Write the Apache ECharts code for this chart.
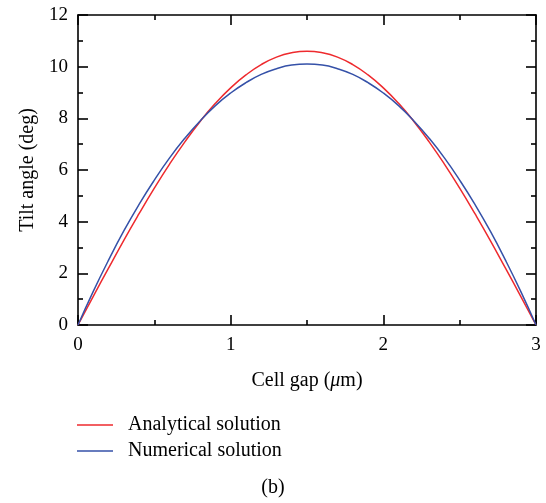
<!DOCTYPE html>
<html>
<head>
    <meta charset="utf-8">
    <title>ECharts</title>
    <script src="https://cdn.jsdelivr.net/npm/echarts@6/dist/echarts.min.js"></script>
</head>
<body style="margin:0;background:#fff;">
<div id="main" style="width: 546px;height:503px;"></div>
<script type="text/javascript">
    // cell gap (um)
    var gap = [0, 0.1, 0.2, 0.3, 0.4, 0.5, 0.6, 0.7, 0.8, 0.9, 1.0, 1.1, 1.2, 1.3, 1.4, 1.5,
        1.6, 1.7, 1.8, 1.9, 2.0, 2.1, 2.2, 2.3, 2.4, 2.5, 2.6, 2.7, 2.8, 2.9, 3.0];
    // tilt angle (deg)
    var analytical = [0, 1.11, 2.20, 3.28, 4.31, 5.30, 6.23, 7.09, 7.88, 8.58, 9.18, 9.68, 10.08, 10.37, 10.54, 10.60,
        10.54, 10.37, 10.08, 9.68, 9.18, 8.58, 7.88, 7.09, 6.23, 5.30, 4.31, 3.28, 2.20, 1.11, 0];
    var numerical = [0, 1.30, 2.51, 3.64, 4.67, 5.61, 6.47, 7.23, 7.90, 8.49, 8.98, 9.38, 9.70, 9.92, 10.06, 10.10,
        10.06, 9.92, 9.70, 9.38, 8.98, 8.49, 7.90, 7.23, 6.47, 5.61, 4.67, 3.64, 2.51, 1.30, 0];
    var names = ['Analytical solution', 'Numerical solution'];

    function pairs(ys) {
        return ys.map(function (y, i) { return [gap[i], y]; });
    }

    var font = 'Liberation Serif';
    var tickStyle = { show: true, inside: true, length: 10, lineStyle: { color: '#000', width: 1.6 } };
    var minorStyle = { show: true, splitNumber: 2, length: 5, lineStyle: { color: '#000', width: 1.6 } };
    var lineStyle = { show: true, onZero: false, lineStyle: { color: '#000', width: 1.6 } };

    var myChart = echarts.init(document.getElementById('main'));
    myChart.setOption({
        backgroundColor: '#fff',
        animation: false,
        textStyle: { fontFamily: font },
        grid: { left: 78, right: 10, top: 15, bottom: 178 },
        legend: {
            orient: 'vertical',
            left: 77,
            top: 415,
            padding: 0,
            icon: 'rect',
            itemWidth: 36,
            itemHeight: 1.5,
            itemGap: 6,
            textStyle: { fontFamily: font, fontSize: 20, color: '#000', padding: [0, 0, 0, 10] },
            data: names
        },
        title: {
            text: '(b)',
            left: 'center',
            top: 473,
            textStyle: { fontFamily: font, fontSize: 20, fontWeight: 'normal', color: '#000' }
        },
        xAxis: [{
            type: 'value', min: 0, max: 3, interval: 1,
            axisLine: lineStyle, axisTick: tickStyle, minorTick: minorStyle,
            splitLine: { show: false },
            axisLabel: { fontFamily: font, fontSize: 19, color: '#000', margin: 11 },
            name: '{a|Cell gap (}{i|μ}{a|m)}',
            nameLocation: 'middle',
            nameGap: 46,
            nameTextStyle: {
                fontFamily: font, fontSize: 20, color: '#000',
                rich: {
                    a: { fontFamily: font, fontSize: 20, color: '#000' },
                    i: { fontFamily: font, fontSize: 20, color: '#000', fontStyle: 'italic' }
                }
            }
        }, {
            type: 'value', min: 0, max: 3, interval: 1, position: 'top',
            axisLine: lineStyle, axisTick: tickStyle, minorTick: minorStyle,
            splitLine: { show: false }, axisLabel: { show: false }
        }],
        yAxis: [{
            type: 'value', min: 0, max: 12, interval: 2,
            axisLine: lineStyle, axisTick: tickStyle, minorTick: minorStyle,
            splitLine: { show: false },
            axisLabel: { fontFamily: font, fontSize: 19, color: '#000', margin: 10 },
            name: 'Tilt angle (deg)',
            nameLocation: 'middle',
            nameGap: 40,
            nameTextStyle: { fontFamily: font, fontSize: 20, color: '#000' }
        }, {
            type: 'value', min: 0, max: 12, interval: 2, position: 'right',
            axisLine: lineStyle, axisTick: tickStyle, minorTick: minorStyle,
            splitLine: { show: false }, axisLabel: { show: false }
        }],
        series: [{
            name: names[0],
            type: 'line',
            data: pairs(analytical),
            smooth: true,
            symbol: 'none',
            lineStyle: { color: '#ee2a2e', width: 1.5 },
            itemStyle: { color: '#ee2a2e' }
        }, {
            name: names[1],
            type: 'line',
            data: pairs(numerical),
            smooth: true,
            symbol: 'none',
            lineStyle: { color: '#3551a8', width: 1.5 },
            itemStyle: { color: '#3551a8' }
        }]
    });
</script>
</body>
</html>
